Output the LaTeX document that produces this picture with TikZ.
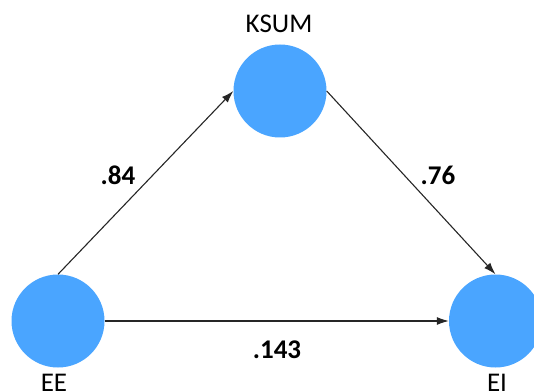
\documentclass[tikz,border=0pt]{standalone}
\usepackage{fontspec}
\setmainfont{Carlito}
\usetikzlibrary{arrows.meta}
\definecolor{nodeblue}{RGB}{74,165,255}
\begin{document}
\begin{tikzpicture}[x=1pt,y=1pt,
  latent/.style={circle,fill=nodeblue,draw=none,minimum size=93pt,inner sep=0pt},
  lbl/.style={font=\fontsize{27}{27}\selectfont,text=black,inner sep=0pt},
  coef/.style={font=\bfseries\fontsize{27}{27}\selectfont,text=black,inner sep=0pt},
  path/.style={draw=black!85,line width=1.1pt,-{Latex[length=12pt,width=8pt]}}]
\useasboundingbox (0,0) rectangle (534,391);
\clip (0,0) rectangle (534,391);
\node[latent] (KSUM) at (280,300) {};
\node[latent] (EE) at (58,70) {};
\node[latent] (EI) at (495.5,70) {};
\node[lbl,anchor=base] (tK) at (279,358) {KSUM};
\node[lbl,anchor=base] (tE) at (54,0) {EE};
\node[lbl,anchor=base] (tI) at (497,0) {EI};
\draw[path] (EE.north) -- (KSUM.west);
\draw[path] (KSUM.east) -- (EI.north);
\draw[path] (EE.east) -- (EI.west);
\node[coef] (c1) at (118,216) {.84};
\node[coef] (c2) at (438,216) {.76};
\node[coef] (c3) at (277,41) {.143};
\end{tikzpicture}
\end{document}
